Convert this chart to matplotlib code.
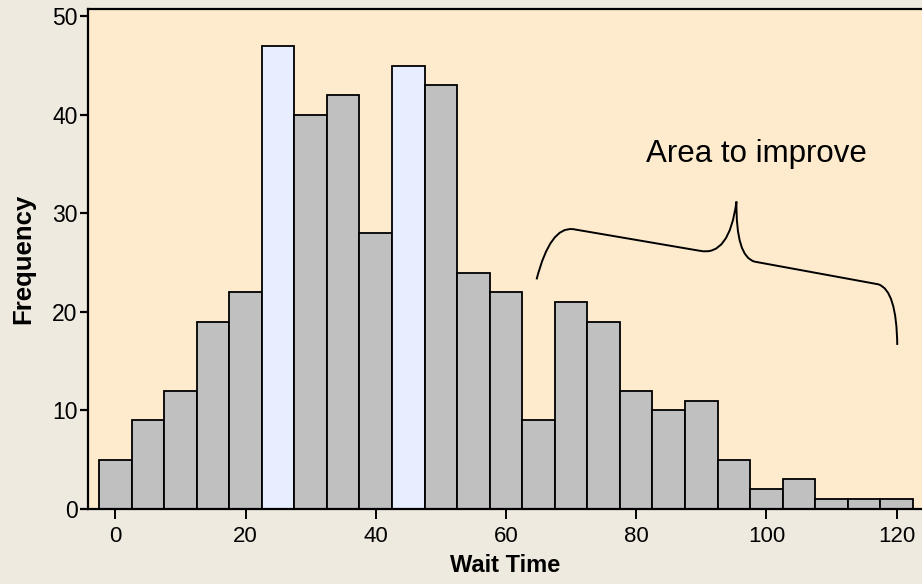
import matplotlib
matplotlib.use('Agg')
import matplotlib.pyplot as plt
from matplotlib.path import Path
from matplotlib.patches import PathPatch

# Histogram data (bin centres, width 5)
wait_time = [0, 5, 10, 15, 20, 25, 30, 35, 40, 45, 50, 55, 60,
             65, 70, 75, 80, 85, 90, 95, 100, 105, 110, 115, 120]
frequency = [5, 9, 12, 19, 22, 47, 40, 42, 28, 45, 43, 24, 22,
             9, 21, 19, 12, 10, 11, 5, 2, 3, 1, 1, 1]
highlighted = [25, 45]
x_ticks = [0, 20, 40, 60, 80, 100, 120]
y_ticks = [0, 10, 20, 30, 40, 50]
note = 'Area to improve'

plt.rcParams['font.family'] = ['Liberation Sans', 'DejaVu Sans']

fig = plt.figure(figsize=(9.22, 5.84), dpi=100, facecolor='#EEEAE0')
ax = fig.add_axes([88/922, 1 - 509/584, 1 - 88/922, (509 - 9)/584])
ax.set_facecolor('#FEEBCE')

colors = ['#E6EEFF' if w in highlighted else '#C0C0C0' for w in wait_time]
ax.bar(wait_time, frequency, width=5, color=colors, edgecolor='black',
       linewidth=1.3, zorder=2)

ax.set_xlim(-4.2, 123.9)
ax.set_ylim(0, 50.74)
ax.set_xticks(x_ticks)
ax.set_yticks(y_ticks)

for side in ['left', 'bottom', 'top']:
    ax.spines[side].set_linewidth(1.6)
ax.spines['right'].set_visible(False)
ax.tick_params(axis='x', direction='out', length=7, width=1.4, labelsize=16, pad=5)
ax.tick_params(axis='y', direction='out', length=6, width=1.6, labelsize=16.5, pad=1.5)

ax.set_xlabel('Wait Time', fontsize=17, fontweight='bold', labelpad=5)
ax.set_ylabel('Frequency', fontsize=18.5, fontweight='bold', labelpad=12)

# curly brace annotation over the right tail
verts = [(64.7, 23.3), (66.8, 28.7), (70.3, 28.4),
         (89.8, 26.2),
         (94.3, 25.6), (95.4, 31.2),
         (95.3, 25.6), (98.2, 25.1),
         (117.2, 22.8),
         (120.0, 22.2), (120.1, 16.65)]
codes = [Path.MOVETO, Path.CURVE3, Path.CURVE3,
         Path.LINETO,
         Path.CURVE3, Path.CURVE3,
         Path.CURVE3, Path.CURVE3,
         Path.LINETO,
         Path.CURVE3, Path.CURVE3]
ax.add_patch(PathPatch(Path(verts, codes), facecolor='none',
                       edgecolor='black', linewidth=1.4, zorder=3))
ax.text(98.5, 35.26, note, fontsize=22.5, ha='center', va='baseline')

fig.savefig('out.png', dpi=100, facecolor=fig.get_facecolor())
